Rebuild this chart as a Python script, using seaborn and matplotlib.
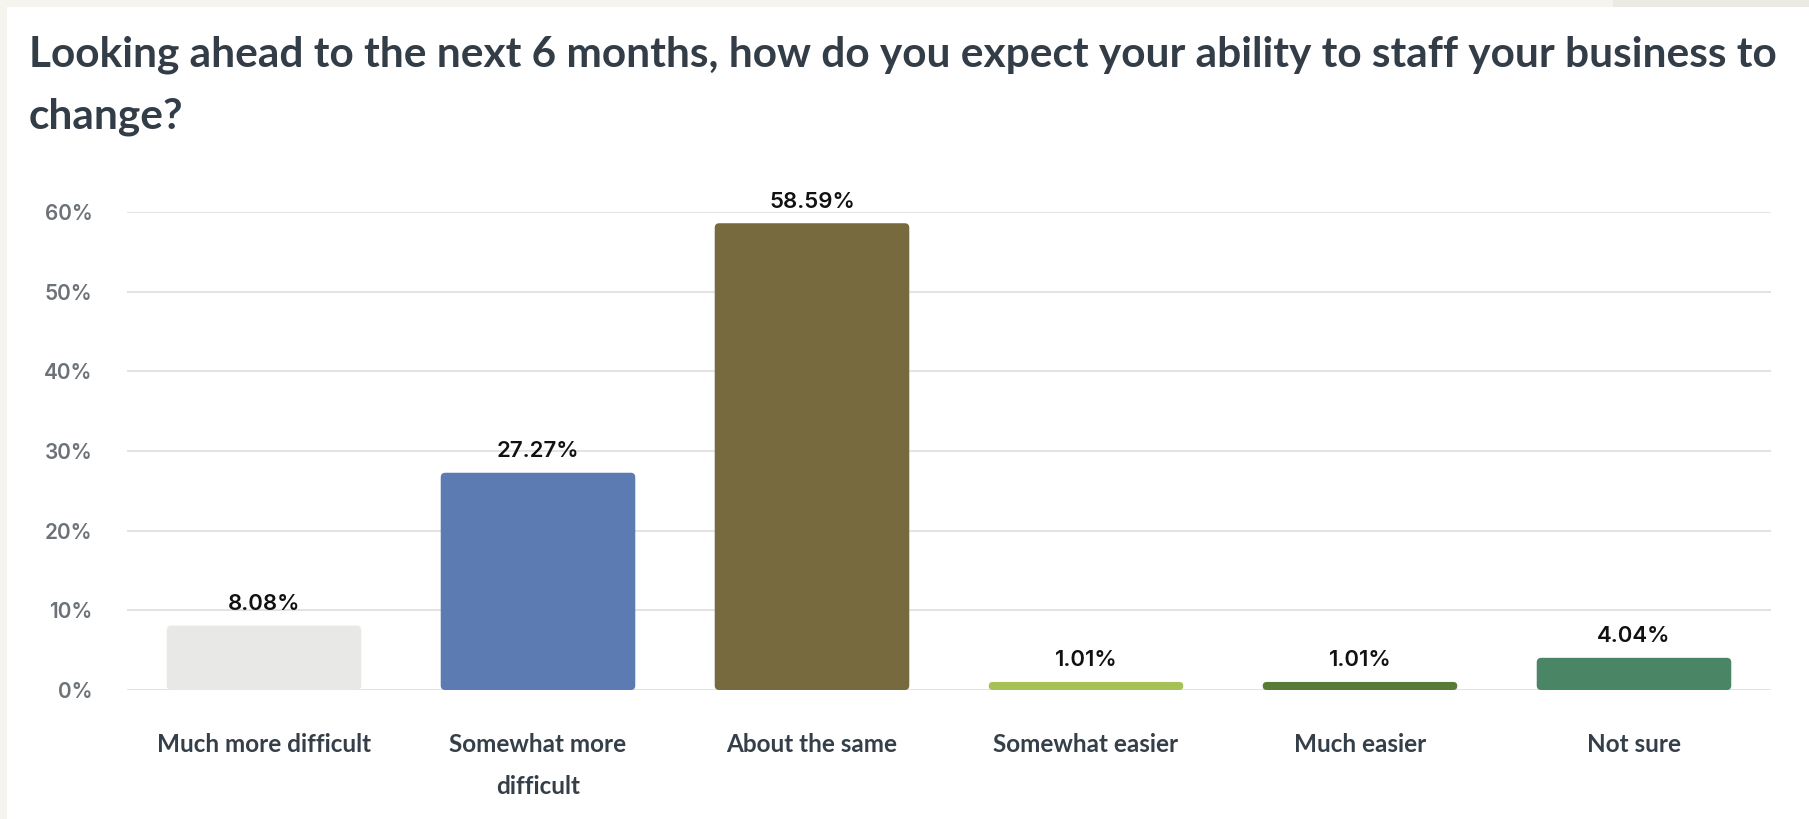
import matplotlib
matplotlib.use("Agg")
import matplotlib.pyplot as plt
from matplotlib import font_manager
from matplotlib.patches import FancyBboxPatch, Rectangle
import seaborn as sns
import pandas as pd

# --- data ---------------------------------------------------------------
categories = ["Much more difficult", "Somewhat more difficult", "About the same",
              "Somewhat easier", "Much easier", "Not sure"]
tick_labels = ["Much more difficult", "Somewhat more\ndifficult", "About the same",
               "Somewhat easier", "Much easier", "Not sure"]
percentages = [8.08, 27.27, 58.59, 1.01, 1.01, 4.04]
bar_colors = ["#e8e8e6", "#5b7bb2", "#776a3e", "#a8c157", "#5a7a38", "#4a8665"]
y_ticks = [0, 10, 20, 30, 40, 50, 60]
y_tick_labels = [f"{t}%" for t in y_ticks]
title_lines = ["Looking ahead to the next 6 months, how do you expect your ability to staff your business to",
               "change?"]

# --- fonts --------------------------------------------------------------
available = {f.name for f in font_manager.fontManager.ttflist}


def pick(*names):
    for n in names:
        if n in available:
            return n
    return "DejaVu Sans"


text_font = pick("Lato", "Roboto", "Noto Sans")
number_font = pick("Inter", "Open Sans", "Noto Sans")

sns.set_theme(style="white")
plt.rcParams["font.family"] = [text_font, "DejaVu Sans"]

TITLE_COLOR = "#333d47"
LABEL_COLOR = "#353f49"
TICK_COLOR = "#6c7278"
GRID_COLOR = "#e3e3e3"

W, H = 1809, 819
fig = plt.figure(figsize=(W / 100, H / 100), dpi=100, facecolor="white")

# page frame strips
fig.add_artist(Rectangle((0, 0), 7 / W, 1, transform=fig.transFigure,
                         color="#f5f4ee", lw=0, zorder=0))
fig.add_artist(Rectangle((0, 1 - 7 / H), 1, 7 / H, transform=fig.transFigure,
                         color="#f5f4ee", lw=0, zorder=0))
fig.add_artist(Rectangle((1613 / W, 1 - 7 / H), 1 - 1613 / W, 7 / H, transform=fig.transFigure,
                         color="#ebebe4", lw=0, zorder=0))

left, right, top, bottom = 127, 1771, 212, 690
ax = fig.add_axes([left / W, 1 - bottom / H, (right - left) / W, (bottom - top) / H])
ax.set_facecolor("none")

df = pd.DataFrame({"category": categories, "pct": percentages})
sns.barplot(data=df, x="category", y="pct", hue="category",
            palette=dict(zip(categories, bar_colors)), saturation=1,
            width=0.71, legend=False, ax=ax, zorder=3)

ax.set_ylim(0, 60)
ax.set_xlim(-0.5, len(categories) - 0.5)
ax.set_yticks(y_ticks)
ax.set_yticklabels(y_tick_labels, fontfamily=number_font, fontsize=15,
                   color=TICK_COLOR, fontweight="semibold")
ax.set_xticks(range(len(categories)))
ax.set_xticklabels(tick_labels, fontsize=17.5, color=LABEL_COLOR, fontweight="bold",
                   linespacing=2.0, ha="center", va="top")
ax.tick_params(axis="y", length=0, pad=25)
ax.tick_params(axis="x", length=0, pad=31)
ax.set_xlabel("")
ax.set_ylabel("")
ax.yaxis.grid(True, color=GRID_COLOR, lw=1.4)
ax.xaxis.grid(False)
ax.set_axisbelow(True)
for s in ax.spines.values():
    s.set_visible(False)

# rounded bar corners, radius given in pixels
x_per_px = (len(categories)) / (right - left)
y_per_px = 60 / (bottom - top)
for patch in list(ax.patches):
    x0, y0 = patch.get_x(), patch.get_y()
    w, h = patch.get_width(), patch.get_height()
    color = patch.get_facecolor()
    patch.remove()
    r_px = min(4.5, (h / y_per_px) / 2)
    fb = FancyBboxPatch((x0, y0), w, h,
                        boxstyle=f"round,pad=0,rounding_size={r_px * x_per_px}",
                        mutation_aspect=y_per_px / x_per_px,
                        facecolor=color, edgecolor="none", zorder=3)
    ax.add_patch(fb)

# value labels
for i, v in enumerate(percentages):
    ax.annotate(f"{v:.2f}%", xy=(i, v), xytext=(0, 15.5), textcoords="offset points",
                ha="center", va="center", fontsize=16, fontfamily=number_font,
                fontweight="semibold", color="#111111", annotation_clip=False, zorder=4)

# title
fig.text(29 / W, 1 - 67 / H, title_lines[0], fontsize=30.5, fontweight="bold",
         color=TITLE_COLOR, ha="left", va="baseline")
fig.text(29 / W, 1 - 129 / H, title_lines[1], fontsize=30.5, fontweight="bold",
         color=TITLE_COLOR, ha="left", va="baseline")

fig.savefig("out.png", dpi=100, facecolor="white")
